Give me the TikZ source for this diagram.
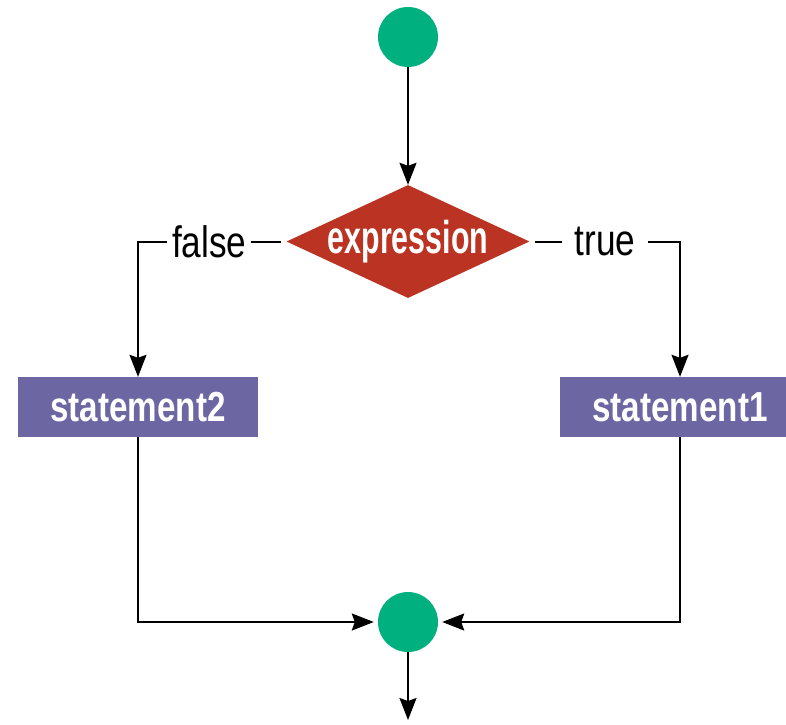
\documentclass[tikz,border=0pt]{standalone}
\usepackage{fontspec}
\setmainfont{Liberation Sans}
\newfontfamily\lblfont[FakeStretch=0.80]{Liberation Sans}
\newfontfamily\stmtfont[FakeStretch=0.79]{Liberation Sans}
\newfontfamily\exprfont[FakeStretch=0.66]{Liberation Sans}
\usetikzlibrary{shapes.geometric,arrows.meta}
\definecolor{termgreen}{RGB}{0,176,127}
\definecolor{decred}{RGB}{187,51,34}
\definecolor{stmtpurple}{RGB}{108,102,163}
\tikzset{
  terminal/.style={circle,fill=termgreen,draw=none,minimum size=60pt,inner sep=0pt},
  decision/.style={diamond,fill=decred,draw=none,minimum width=243pt,minimum height=113pt,inner sep=0pt},
  stmtbox/.style={rectangle,fill=stmtpurple,draw=none,minimum width=240pt,minimum height=60pt,inner sep=0pt,
    text=white,font=\stmtfont\bfseries\fontsize{42}{42}\selectfont},
  flow/.style={line width=2pt,-{Stealth[length=22pt,width=17pt,inset=3pt]}},
  branchlbl/.style={fill=white,inner ysep=2pt,font=\lblfont\fontsize{44}{44}\selectfont}
}
\begin{document}
\begin{tikzpicture}[x=1pt,y=-1pt]
\useasboundingbox (0,0) rectangle (786,724);
\node[terminal] (start) at (408,37) {};
\node[decision,label={[text=white,font=\exprfont\bfseries\fontsize{46}{46}\selectfont]center:expression}] (expr) at (408,241.5) {};
\node[stmtbox] (s2) at (138,407) {statement2};
\node[stmtbox] (s1) at (680,407) {statement1};
\node[terminal] (join) at (408,622) {};
\coordinate (out) at (408,720);

\draw[flow] (start) -- (expr);
\draw[flow,shorten <=5pt] (expr.west) -| node[branchlbl,pos=0.26,inner xsep=5pt]{false} (s2.north);
\draw[flow,shorten <=5pt] (expr.east) -| node[branchlbl,pos=0.25,inner xsep=13pt]{true} (s1.north);
\draw[flow,shorten >=4pt] (s2.south) |- (join);
\draw[flow,shorten >=4pt] (s1.south) |- (join);
\draw[flow] (join) -- (out);
\end{tikzpicture}
\end{document}
